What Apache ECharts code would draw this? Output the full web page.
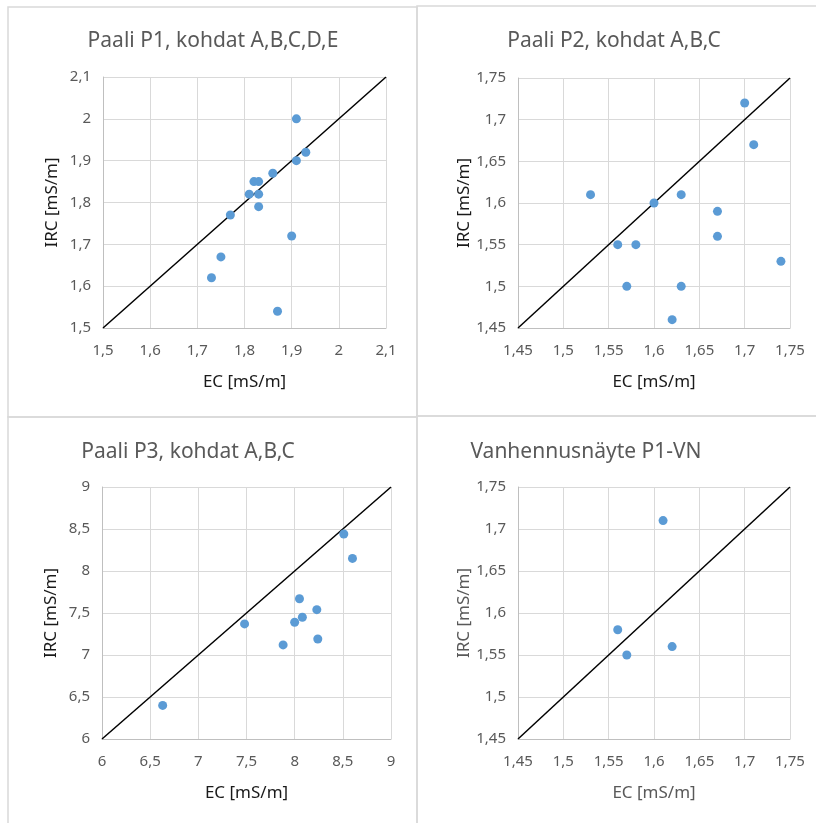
<!DOCTYPE html>
<html>
<head>
<meta charset="utf-8">
<script src="https://cdn.jsdelivr.net/npm/echarts@6/dist/echarts.min.js"></script>
<style>html,body{margin:0;padding:0;background:#fff}#c{width:816px;height:823px}</style>
</head>
<body>
<div id="c"></div>
<script>
// Data
const titles = ['Paali P1, kohdat A,B,C,D,E', 'Paali P2, kohdat A,B,C', 'Paali P3, kohdat A,B,C', 'Vanhennusnäyte P1-VN'];
const xName = 'EC [mS/m]';
const yName = 'IRC [mS/m]';

const p1EC  = [1.91, 1.93, 1.91, 1.86, 1.82, 1.83, 1.81, 1.83, 1.83, 1.77, 1.90, 1.75, 1.73, 1.87];
const p1IRC = [2.00, 1.92, 1.90, 1.87, 1.85, 1.85, 1.82, 1.82, 1.79, 1.77, 1.72, 1.67, 1.62, 1.54];

const p2EC  = [1.70, 1.71, 1.53, 1.63, 1.60, 1.67, 1.67, 1.56, 1.58, 1.74, 1.57, 1.63, 1.62];
const p2IRC = [1.72, 1.67, 1.61, 1.61, 1.60, 1.59, 1.56, 1.55, 1.55, 1.53, 1.50, 1.50, 1.46];

const p3EC  = [8.51, 8.60, 8.05, 8.23, 8.08, 8.00, 7.48, 8.24, 7.88, 6.63];
const p3IRC = [8.44, 8.15, 7.67, 7.54, 7.45, 7.39, 7.37, 7.19, 7.12, 6.40];

const p4EC  = [1.61, 1.56, 1.57, 1.62];
const p4IRC = [1.71, 1.58, 1.55, 1.56];

// Axis ranges [min, max, interval]
const ranges = [[1.5, 2.1, 0.1], [1.45, 1.75, 0.05], [6, 9, 0.5], [1.45, 1.75, 0.05]];

const panels = [[p1EC, p1IRC], [p2EC, p2IRC], [p3EC, p3IRC], [p4EC, p4IRC]];

const FONT = 'Noto Sans';
const grids = [
  {left: 103, top: 77, width: 283, height: 251},
  {left: 518, top: 78, width: 272, height: 250},
  {left: 102, top: 487, width: 289, height: 252},
  {left: 518, top: 487, width: 272, height: 252}
];
const titlePos = [[213, 41], [614, 41], [188, 452], [586, 452]];
const nameColors = ['#1a1a1a', '#1a1a1a', '#1a1a1a', '#595959'];

const fmt = v => String(+(+v).toFixed(2)).replace('.', ',');

const xAxis = [], yAxis = [], series = [];
ranges.forEach((r, i) => {
  const common = {
    gridIndex: i, type: 'value', min: r[0], max: r[1], interval: r[2],
    nameLocation: 'middle',
    nameTextStyle: {color: nameColors[i], fontSize: 17, fontFamily: FONT},
    axisLine: {show: true, lineStyle: {color: '#bfbfbf', width: 1}},
    axisTick: {show: false},
    splitLine: {show: true, lineStyle: {color: '#d9d9d9', width: 1}},
    axisLabel: {color: '#595959', fontSize: 15, fontFamily: FONT, formatter: fmt, showMinLabel: true, showMaxLabel: true}
  };
  xAxis.push(Object.assign({}, common, {name: xName, nameGap: 46, axisLabel: Object.assign({}, common.axisLabel, {margin: 15})}));
  yAxis.push(Object.assign({}, common, {name: yName, nameGap: 42, axisLabel: Object.assign({}, common.axisLabel, {margin: 12})}));
  const [ec, irc] = panels[i];
  series.push({
    type: 'line', xAxisIndex: i, yAxisIndex: i, data: [[r[0], r[0]], [r[1], r[1]]],
    symbol: 'none', lineStyle: {color: '#000', width: 1.5}, silent: true, z: 2
  });
  series.push({
    type: 'scatter', xAxisIndex: i, yAxisIndex: i,
    data: ec.map((v, k) => [v, irc[k]]),
    symbolSize: 9, itemStyle: {color: '#5b9bd5', opacity: 1}, z: 3
  });
});

const graphic = [
  {type: 'rect', shape: {x: 8, y: 7, width: 409, height: 410}, style: {fill: 'none', stroke: '#d9d9d9', lineWidth: 1.5}, silent: true},
  {type: 'rect', shape: {x: 417, y: 6, width: 420, height: 410}, style: {fill: 'none', stroke: '#d9d9d9', lineWidth: 1.5}, silent: true},
  {type: 'rect', shape: {x: 8, y: 417, width: 409, height: 420}, style: {fill: 'none', stroke: '#d9d9d9', lineWidth: 1.5}, silent: true},
  {type: 'rect', shape: {x: 417, y: 416, width: 420, height: 420}, style: {fill: 'none', stroke: '#d9d9d9', lineWidth: 1.5}, silent: true}
];
titles.forEach((t, i) => {
  graphic.push({type: 'text', x: titlePos[i][0], y: titlePos[i][1],
    style: {text: t, fill: '#595959', fontSize: 21, fontFamily: FONT, align: 'center', verticalAlign: 'middle'}});
});

const chart = echarts.init(document.getElementById('c'), null, {renderer: 'canvas'});
chart.setOption({
  animation: false,
  backgroundColor: '#fff',
  grid: grids.map(g => Object.assign({containLabel: false}, g)),
  xAxis, yAxis, series, graphic
});
</script>
</body>
</html>
